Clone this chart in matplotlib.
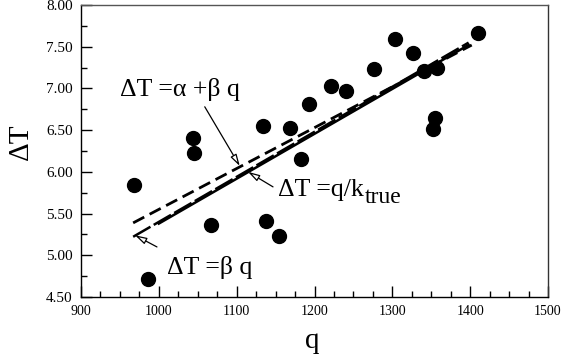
import matplotlib
matplotlib.use("Agg")
import matplotlib.pyplot as plt
import numpy as np
from matplotlib.ticker import MultipleLocator, FormatStrFormatter

plt.rcParams['font.family'] = ['Liberation Serif', 'DejaVu Serif']

# data points (q, ΔT)
q_pts = [968, 986, 1044, 1045, 1067, 1134, 1138, 1155, 1168, 1183, 1193,
         1221, 1241, 1276, 1303, 1326, 1341, 1358, 1355, 1352, 1410]
dT_pts = [5.84, 4.71, 6.41, 6.23, 5.36, 6.55, 5.41, 5.23, 6.53, 6.15, 6.81,
          7.03, 6.97, 7.23, 7.59, 7.43, 7.21, 7.24, 6.64, 6.51, 7.67]

# fitted lines
alpha = 0.65
beta_ab = 0.0049      # ΔT = α + β q
beta = 0.0054         # ΔT = β q
inv_k_true = 0.00538  # ΔT = q / k_true
q_ab = [967, 1402]
q_b = [967, 1398]
q_k = [1000, 1398]

fig = plt.figure(figsize=(5.81, 3.58), dpi=100)
ax = fig.add_axes([81/581, 1-297/358, (548-81)/581, (297-5)/358])

ax.plot(q_pts, dT_pts, 'o', color='black', markersize=10, zorder=5)

qa = np.array(q_ab)
ax.plot(qa, alpha + beta_ab*qa, color='black', lw=2, dashes=(4.5, 2.2))
qb = np.array(q_b)
ax.plot(qb, beta*qb, color='black', lw=1.8, dashes=(8, 1.5))
qk = np.array(q_k)
ax.plot(qk, inv_k_true*qk, color='black', lw=1.8)

ax.set_xlim(900, 1500)
ax.set_ylim(4.5, 8.0)
ax.xaxis.set_major_locator(MultipleLocator(100))
ax.xaxis.set_minor_locator(MultipleLocator(25))
ax.yaxis.set_major_locator(MultipleLocator(0.5))
ax.yaxis.set_minor_locator(MultipleLocator(0.25))
ax.yaxis.set_major_formatter(FormatStrFormatter('%.2f'))
ax.tick_params(which='both', direction='in', top=False, right=False, pad=6)
ax.tick_params(axis='x', labelsize=10)
ax.tick_params(axis='y', labelsize=11)
ax.tick_params(which='major', length=8, width=1)
ax.tick_params(which='minor', length=4.5, width=1)
for s in ax.spines.values():
    s.set_linewidth(1)
ax.spines['top'].set_color('#555555')
ax.spines['right'].set_color('#333333')

ax.set_xlabel('q', fontsize=21)
ax.set_ylabel('ΔT', fontsize=21)
ax.xaxis.set_label_coords(0.495, -0.105)
ax.yaxis.set_label_coords(-0.10, 0.53)

ap = dict(arrowstyle='-|>,head_length=0.7,head_width=0.2', fc='white', ec='black', lw=0.9,
          shrinkA=0, shrinkB=0)
ax.text(950, 6.91, 'ΔT =α +β q', fontsize=18.5, ha='left', va='baseline')
ax.annotate('', xy=(1104, 6.07), xytext=(1059, 6.78), arrowprops=ap)
t1 = ax.text(1153, 5.71, 'ΔT =q/k', fontsize=18.5, ha='left', va='baseline')
ax.annotate('true', xy=(1, 0), xycoords=t1, xytext=(0.5, -1.5), textcoords='offset points',
            fontsize=17, ha='left', va='baseline')
ax.annotate('', xy=(1114.6, 6.0), xytext=(1146.7, 5.82), arrowprops=ap)
ax.text(1010, 4.77, 'ΔT =β q', fontsize=18.5, ha='left', va='baseline')
ax.annotate('', xy=(969.4, 5.24), xytext=(997.6, 5.1), arrowprops=ap)

fig.savefig('out.png', dpi=100)
